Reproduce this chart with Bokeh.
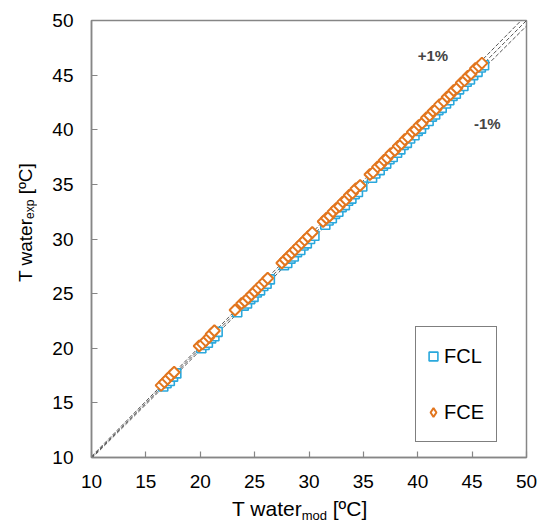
import math
from bokeh.plotting import figure
from bokeh.models import Range1d, Label, Legend, LegendItem, FixedTicker, ColumnDataSource, Div
from bokeh.layouts import column, row
from bokeh.embed import file_html
from bokeh.resources import INLINE

# ---------------- data ----------------
fcl_mod = [16.6, 16.9, 17.2, 17.5, 17.8,
           20.1, 20.4, 20.7, 21.0, 21.3, 21.6,
           23.4, 24.0, 24.3, 24.6, 24.9, 25.2, 25.5, 25.8, 26.1, 26.4,
           27.7, 28.0, 28.3, 28.6, 28.9, 29.2, 29.5, 29.8, 30.1, 30.5,
           31.5, 31.8, 32.1, 32.4, 32.7, 33.0, 33.3, 33.6, 33.9, 34.2, 34.5, 34.9,
           35.8, 36.1, 36.5, 36.8, 37.1, 37.4, 37.7, 38.1, 38.4, 38.7,
           39.0, 39.3, 39.7, 40.0, 40.3, 40.6, 41.0, 41.3, 41.6, 41.9,
           42.2, 42.6, 42.9, 43.2, 43.5, 43.8, 44.2, 44.5, 44.8, 45.1,
           45.5, 45.8, 46.1]
fcl_exp = [16.5, 16.8, 17.0, 17.4, 17.7,
           20.0, 20.3, 20.5, 20.9, 21.1, 21.5,
           23.3, 23.9, 24.1, 24.5, 24.7, 25.1, 25.3, 25.7, 25.9, 26.3,
           27.6, 27.8, 28.2, 28.4, 28.8, 29.0, 29.4, 29.6, 30.0, 30.3,
           31.3, 31.7, 31.9, 32.3, 32.5, 32.9, 33.1, 33.5, 33.7, 34.1, 34.3, 34.8,
           35.6, 36.0, 36.3, 36.7, 36.9, 37.3, 37.5, 37.9, 38.2, 38.6,
           38.8, 39.2, 39.5, 39.9, 40.1, 40.5, 40.8, 41.2, 41.4, 41.8,
           42.0, 42.4, 42.7, 43.1, 43.3, 43.7, 44.0, 44.4, 44.6, 45.0,
           45.3, 45.7, 45.9]

fce_mod = [16.4, 16.7, 17.0, 17.3, 17.6,
           19.9, 20.2, 20.5, 20.8, 21.0, 21.3,
           23.2, 23.8, 24.1, 24.4, 24.7, 25.0, 25.3, 25.6, 25.9, 26.2,
           27.5, 27.8, 28.1, 28.4, 28.7, 29.0, 29.3, 29.6, 29.9, 30.3,
           31.3, 31.6, 31.9, 32.2, 32.5, 32.8, 33.1, 33.4, 33.7, 34.0, 34.3, 34.7,
           35.6, 35.9, 36.3, 36.6, 36.9, 37.2, 37.5, 37.9, 38.2, 38.5,
           38.8, 39.1, 39.5, 39.8, 40.1, 40.4, 40.8, 41.1, 41.4, 41.7,
           42.0, 42.4, 42.7, 43.0, 43.3, 43.6, 44.0, 44.3, 44.6, 44.9,
           45.3, 45.6, 45.9]
fce_exp = [16.6, 16.9, 17.2, 17.5, 17.8,
           20.2, 20.4, 20.7, 21.0, 21.3, 21.6,
           23.5, 24.1, 24.3, 24.6, 24.9, 25.2, 25.5, 25.8, 26.1, 26.4,
           27.8, 28.1, 28.4, 28.7, 29.0, 29.3, 29.6, 29.9, 30.2, 30.6,
           31.6, 31.9, 32.1, 32.5, 32.8, 33.0, 33.4, 33.6, 34.0, 34.2, 34.6, 34.9,
           35.9, 36.1, 36.6, 36.8, 37.2, 37.4, 37.8, 38.1, 38.5, 38.7,
           39.1, 39.3, 39.8, 40.0, 40.4, 40.6, 41.1, 41.3, 41.7, 41.9,
           42.3, 42.6, 43.0, 43.2, 43.6, 43.8, 44.3, 44.5, 44.9, 45.1,
           45.6, 45.8, 46.1]

axis_min, axis_max = 10, 50
tick_values = [10, 15, 20, 25, 30, 35, 40, 45, 50]
band_factors = [0.99, 1.0, 1.01]
band_labels = ["+1%", "-1%"]
series_names = ["FCL", "FCE"]
x_title = ("T water", "mod", " [ºC]")
y_title = ("T water", "exp", " [ºC]")

# ---------------- figure ----------------
FONT = "Liberation Sans"
YDIV_W = 48
FIG_W, FIG_H = 503, 495
XDIV_H = 28

p = figure(width=FIG_W, height=FIG_H, output_backend="svg", toolbar_location=None,
           x_range=Range1d(axis_min, axis_max), y_range=Range1d(axis_min, axis_max),
           min_border_left=43, min_border_right=25, min_border_top=20, min_border_bottom=38,
           margin=0)
p.xgrid.visible = False
p.ygrid.visible = False
p.outline_line_color = "#868686"
p.outline_line_width = 1.5
p.background_fill_color = "white"
p.border_fill_color = "white"

for ax in (p.xaxis[0], p.yaxis[0]):
    ax.ticker = FixedTicker(ticks=tick_values)
    ax.axis_line_color = "#868686"
    ax.axis_line_width = 1.5
    ax.major_tick_line_color = "#868686"
    ax.major_tick_line_width = 1.2
    ax.major_tick_in = 6
    ax.major_tick_out = 0
    ax.minor_tick_line_color = None
    ax.major_label_text_font = FONT
    ax.major_label_text_font_size = "19px"
    ax.major_label_text_color = "#000000"
p.xaxis[0].major_label_standoff = 17
p.yaxis[0].major_label_standoff = 18

# reference lines (y = x and +/-1 %)
for f in band_factors:
    p.line([axis_min, axis_max], [axis_min * f, axis_max * f], line_color="#555555",
           line_width=1, line_dash="4 2")

# series
src_l = ColumnDataSource(dict(x=fcl_mod, y=fcl_exp))
src_e = ColumnDataSource(dict(x=fce_mod, y=fce_exp))
r_l = p.scatter("x", "y", source=src_l, marker="square", size=9, fill_color="white",
                line_color="#2AA8DC", line_width=1.6)
r_e = p.scatter("x", "y", source=src_e, marker="square", angle=45, angle_units="deg",
                size=7.8, fill_color="white", line_color="#E2761F", line_width=2)
# hidden twin of the FCE series, only used to show a diamond in the legend
# (legend glyphs do not follow marker rotation)
r_e_leg = p.scatter("x", "y", source=src_e, marker="diamond", size=10, fill_color="white",
                    line_color="#E2761F", line_width=2, visible=False)

legend = Legend(items=[LegendItem(label=series_names[0], renderers=[r_l]),
                       LegendItem(label=series_names[1], renderers=[r_e_leg])],
                location=(324, 15), orientation="vertical",
                label_text_font=FONT, label_text_font_size="20px",
                label_text_color="#000000",
                glyph_width=22, glyph_height=46, label_height=46, label_width=46,
                label_standoff=0, padding=6, spacing=10, margin=0,
                border_line_color="#000000", border_line_width=1,
                background_fill_alpha=1.0, inactive_fill_alpha=0.0)
p.add_layout(legend, "center")

# +/-1% annotations
p.add_layout(Label(x=41.4, y=46.8, text=band_labels[0], text_font=FONT,
                   text_font_size="15px", text_font_style="bold",
                   text_align="center", text_baseline="middle"))
p.add_layout(Label(x=46.4, y=40.6, text=band_labels[1], text_font=FONT,
                   text_font_size="15px", text_font_style="bold",
                   text_align="center", text_baseline="middle"))

# axis titles with subscripts (HTML text)
xdiv = Div(width=YDIV_W + FIG_W, height=XDIV_H, margin=0, text=(
    f"<div style=\"font-family:'{FONT}'; font-size:21px; line-height:22px; "
    "white-space:nowrap; padding-left:232px; padding-top:3px; margin:0; color:#000;\">"
    f"{x_title[0]}<span style=\"font-size:13px; vertical-align:-4px;\">{x_title[1]}</span>"
    f"{x_title[2]}</div>"))

ydiv = Div(width=YDIV_W, height=FIG_H, margin=0, text=(
    f"<div style=\"width:{YDIV_W}px; height:{FIG_H}px; writing-mode:vertical-rl; "
    "transform:rotate(180deg); box-sizing:border-box; margin:0; "
    f"font-family:'{FONT}'; font-size:19px; line-height:22px; white-space:nowrap; "
    "padding-inline-start:213px; padding-block-start:15px; color:#000;\">"
    f"{y_title[0]}<span style=\"font-size:12px; vertical-align:-4px;\">{y_title[1]}</span>"
    f"{y_title[2]}</div>"))

layout = column(row(ydiv, p, spacing=0, margin=0), xdiv, spacing=0, margin=0)

open("out.html", "w").write(file_html(layout, INLINE))
